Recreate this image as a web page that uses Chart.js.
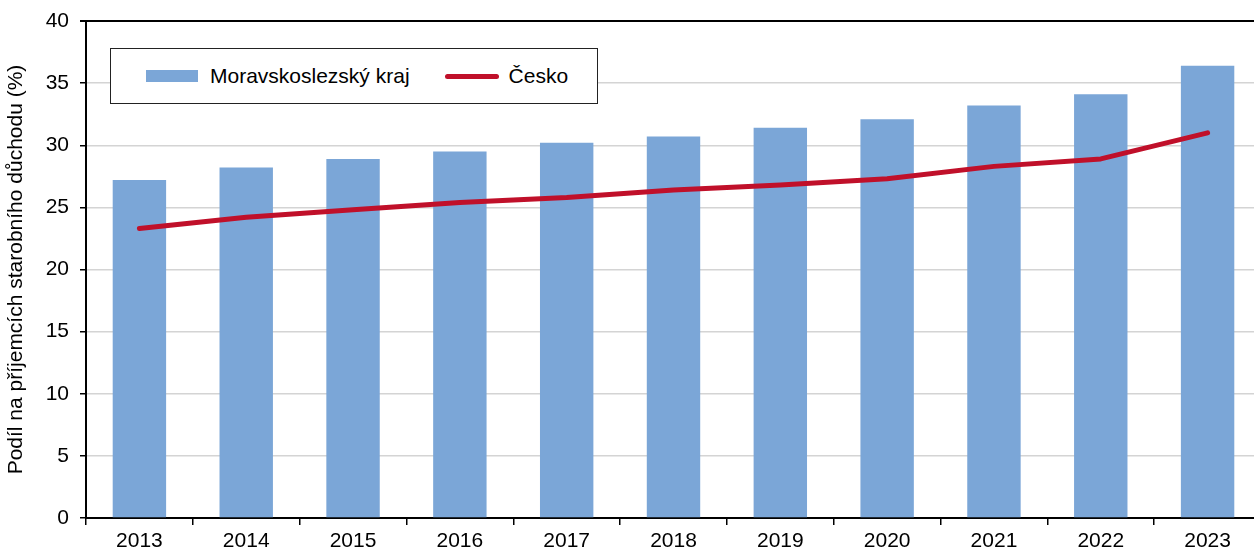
<!DOCTYPE html>
<html lang="cs">
<head>
    <meta charset="UTF-8">
    <title>Podíl na příjemcích starobního důchodu</title>
    <script src="https://cdn.jsdelivr.net/npm/chart.js"></script>
    <style>
        body {
            margin: 0;
            background: #fff;
            font-family: 'Liberation Sans', Arial, sans-serif;
            overflow: hidden;
        }
        .wrap {
            position: relative;
            width: 1254px;
            height: 550px;
            overflow: hidden;
        }
        canvas {
            display: block;
        }
        .legend {
            position: absolute;
            left: 110px;
            top: 48px;
            width: 486px;
            height: 54px;
            border: 1px solid #222;
            background: #fff;
            display: flex;
            align-items: center;
            font-size: 21px;
            color: #000;
        }
        .legend .item {
            display: flex;
            align-items: center;
        }
        .legend .swatch-bar {
            width: 52px;
            height: 12px;
            margin-left: 35px;
            margin-right: 12px;
        }
        .legend .swatch-line {
            width: 54px;
            height: 5px;
            border-radius: 3px;
            margin-left: 35px;
            margin-right: 10px;
        }
    </style>
</head>
<body>
    <div class="wrap">
        <!-- canvas is a bit wider than the page: the plot area runs past the right edge, as in the original -->
        <canvas id="chart" width="1261" height="550"></canvas>
        <div class="legend" id="legend"></div>
    </div>

    <script>
        // data
        const years = ['2013', '2014', '2015', '2016', '2017', '2018', '2019', '2020', '2021', '2022', '2023'];
        const moravskoslezsky = [27.2, 28.2, 28.9, 29.5, 30.2, 30.7, 31.4, 32.1, 33.2, 34.1, 36.4];
        const cesko = [23.3, 24.2, 24.8, 25.4, 25.8, 26.4, 26.8, 27.3, 28.3, 28.9, 31.0];
        const yTicks = [0, 5, 10, 15, 20, 25, 30, 35, 40];

        const barColor = '#7ba6d7';
        const lineColor = '#c0102a';
        const font = { family: "'Liberation Sans', Arial, sans-serif", size: 21 };

        const ctx = document.getElementById('chart').getContext('2d');
        const chart = new Chart(ctx, {
            type: 'bar',
            data: {
                labels: years,
                datasets: [
                    {
                        type: 'line',
                        label: 'Česko',
                        data: cesko,
                        borderColor: lineColor,
                        backgroundColor: lineColor,
                        borderWidth: 5,
                        borderCapStyle: 'round',
                        borderJoinStyle: 'round',
                        pointRadius: 0,
                        tension: 0,
                        order: 0
                    },
                    {
                        label: 'Moravskoslezský kraj',
                        data: moravskoslezsky,
                        backgroundColor: barColor,
                        barPercentage: 0.5,
                        categoryPercentage: 1,
                        order: 1
                    }
                ]
            },
            options: {
                responsive: false,
                animation: false,
                layout: { padding: { top: 21, right: 0, bottom: 0, left: 0 } },
                plugins: {
                    legend: { display: false },
                    tooltip: { enabled: false }
                },
                scales: {
                    x: {
                        offset: true,
                        grid: {
                            offset: true,
                            drawOnChartArea: false,
                            tickLength: 7,
                            color: '#000',
                            lineWidth: 1.5
                        },
                        border: { color: '#000', width: 2 },
                        ticks: { color: '#000', font: font, padding: 4, maxRotation: 0 },
                        afterFit: (scale) => {
                            scale.height = 32;
                            scale.paddingRight = 0;
                        }
                    },
                    y: {
                        min: 0,
                        max: 40,
                        afterBuildTicks: (scale) => {
                            scale.ticks = yTicks.map(v => ({ value: v }));
                        },
                        grid: {
                            color: (c) => c.tick && c.tick.value === 40 ? '#000' : '#d4d4d4',
                            lineWidth: (c) => c.tick && c.tick.value === 40 ? 2 : 1.5,
                            tickColor: '#000',
                            tickLength: 6
                        },
                        border: { color: '#000', width: 2 },
                        ticks: { color: '#000', font: font, padding: 11 },
                        title: {
                            display: true,
                            text: 'Podíl na příjemcích starobního důchodu (%)',
                            color: '#000',
                            font: font,
                            padding: { top: 4, bottom: 4 }
                        },
                        afterFit: (scale) => {
                            scale.width = 86;
                            scale.paddingTop = 0;
                        }
                    }
                }
            }
        });

        // legend box in the plot area, built from the datasets
        const legend = document.getElementById('legend');
        const bars = chart.data.datasets[1];
        const line = chart.data.datasets[0];
        legend.innerHTML =
            '<div class="item"><span class="swatch-bar" style="background:' + bars.backgroundColor + '"></span>' + bars.label + '</div>' +
            '<div class="item"><span class="swatch-line" style="background:' + line.borderColor + '"></span>' + line.label + '</div>';
    </script>
</body>
</html>
